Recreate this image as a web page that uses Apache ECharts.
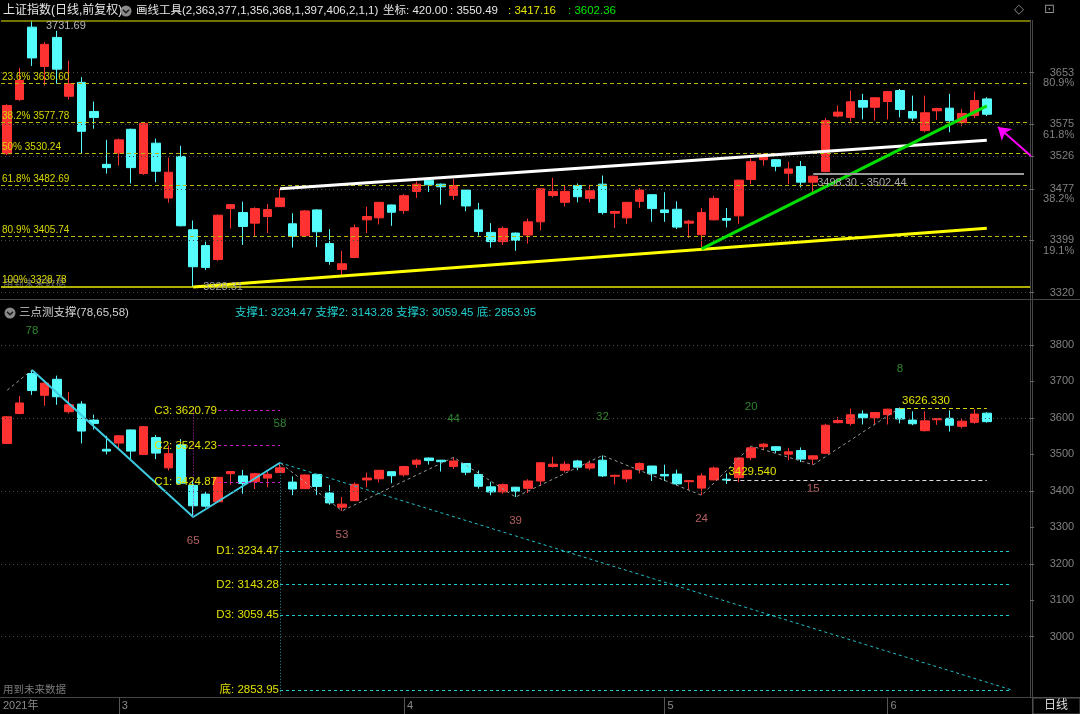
<!DOCTYPE html>
<html><head><meta charset="utf-8">
<script src="https://cdn.jsdelivr.net/npm/echarts@6/dist/echarts.min.js"></script>
<style>html,body{margin:0;padding:0;background:#000;}#c{width:1080px;height:714px;}</style>
</head><body><div id="c"></div>
<script>
// ---- data ----
const dates = [
 '2021-02-09','2021-02-10','2021-02-18','2021-02-19','2021-02-22','2021-02-23','2021-02-24','2021-02-25','2021-02-26',
 '2021-03-01','2021-03-02','2021-03-03','2021-03-04','2021-03-05','2021-03-08','2021-03-09','2021-03-10','2021-03-11','2021-03-12',
 '2021-03-15','2021-03-16','2021-03-17','2021-03-18','2021-03-19','2021-03-22','2021-03-23','2021-03-24','2021-03-25','2021-03-26',
 '2021-03-29','2021-03-30','2021-03-31',
 '2021-04-01','2021-04-02','2021-04-06','2021-04-07','2021-04-08','2021-04-09','2021-04-12','2021-04-13','2021-04-14','2021-04-15',
 '2021-04-16','2021-04-19','2021-04-20','2021-04-21','2021-04-22','2021-04-23','2021-04-26','2021-04-27','2021-04-28','2021-04-29','2021-04-30',
 '2021-05-06','2021-05-07','2021-05-10','2021-05-11','2021-05-12','2021-05-13','2021-05-14','2021-05-17','2021-05-18','2021-05-19',
 '2021-05-20','2021-05-21','2021-05-24','2021-05-25','2021-05-26','2021-05-27','2021-05-28','2021-05-31',
 '2021-06-01','2021-06-02','2021-06-03','2021-06-04','2021-06-07','2021-06-08','2021-06-09','2021-06-10','2021-06-11'];
const padCats = ['n1','n2','n3'];
const opens = [3530,3612,3721.6,3662,3706,3617,3638,3594,3514,
 3531,3567,3500,3546,3463,3526,3415,3391,3370,3447,3441,3425,3435,3450,3424,3406,3445,3394,3355,3373,3430,3433,3452.5,
 3444,3473,3490,3484,3467,3475,3445,3411,3397,3410,3407,3427,3467,3456.5,3482,3462.5,3484,3440,3433,3458,3468,
 3445,3446,3425,3407.5,3430,3432,3436,3491,3521,3521,3500.5,3510.6,3487,3503,3587,3585,3610.6,3600.4,
 3609,3625.7,3594,3565,3595,3599,3577,3588,3613];
const closes = [3603,3641,3675,3695.5,3658,3636,3564,3585,3509,
 3551,3509,3576,3503.5,3502,3421,3359,3358,3437,3453,3420,3447,3445.5,3463,3405,3443.5,3412,3367,3363.5,3418,3435,3456.5,3441.5,
 3466.5,3484,3483,3480,3482,3451,3412.5,3397,3417,3399,3427,3477,3473,3473,3465,3474,3441,3442.6,3456.5,3475,3447,
 3441,3419,3428,3441,3462.5,3429.5,3490,3518,3528,3511,3507,3487,3496,3580,3593,3608.6,3600.5,3614.7,
 3624,3597,3584,3592,3598.5,3580,3591,3610.6,3589.75];
const lows = [3528,3610,3663,3633,3636,3612,3530,3568,3500,
 3512,3485,3498,3487,3456,3420,3328.31,3354,3368,3417,3392,3405,3410,3450,3388,3405,3389,3362,3345,3372,3410,3423,3421,
 3439,3463,3472,3453,3460,3443,3406,3388,3392,3383,3394,3414,3464,3450,3456.5,3456.5,3438,3417.7,3424,3448,3427,
 3427,3416,3402.5,3388,3429,3418.6,3424,3484,3512,3503.5,3484,3479,3471.6,3502,3585,3579,3582,3580,
 3582,3585,3580,3562.5,3581,3562.5,3571.7,3584,3587];
const highs = [3605,3660,3731.69,3699,3716,3671,3646,3609,3551,
 3553,3568,3578,3553,3524,3542,3429,3397,3438,3454,3457.5,3449,3454,3477,3440,3445,3446,3416,3383,3423,3450,3457,3453,
 3469,3488,3491,3485,3492,3476,3455.6,3425,3420,3411,3432,3478,3493.5,3481,3485,3483,3497,3444,3457,3478,3469,
 3471.7,3458,3430,3448,3466.6,3448,3491,3523,3531,3522,3518,3519,3497,3584,3603,3625.7,3620.7,3615.5,
 3625,3628,3618,3618,3599.5,3620.7,3598,3624,3615.6];

const fibValues = [3731.69,3636.60,3577.78,3530.24,3482.69,3405.74,3328.78];
const fibLabels = ['','23.6% 3636.60','38.2% 3577.78','50% 3530.24','61.8% 3482.69','80.9% 3405.74','100% 3328.78'];
const topTicks = [3653,3575,3526,3477,3399,3320];
const topPctTicks = [3653,3575,3477,3399];
const topPctLabels = ['80.9%','61.8%','38.2%','19.1%'];
const botTicks = [3000,3100,3200,3300,3400,3500,3600,3700,3800];
const botGridLines = [3800,3600,3400,3200,3000];

const trendWhite = [['2021-03-18',3477],['2021-06-11',3550.49]];
const trendYellow = [['2021-03-09',3328.31],['2021-06-11',3417.16]];
const trendGreen = [['2021-05-11',3386],['2021-06-11',3602.36]];
const rangeLine = [['2021-05-24',3500.4],['n3',3500.4]];
const rangeText = '3498.30 - 3502.44';

const swingDates = ['2021-02-18','2021-03-09','2021-03-18','2021-03-25','2021-04-08','2021-04-15','2021-04-26','2021-05-11','2021-05-17','2021-05-24','2021-06-02'];
const swingPrices = [3731.69,3328.31,3477,3345,3492,3383,3497,3388,3523,3471.6,3628];
const swingCounts = [78,65,58,53,44,39,32,24,20,15,8];
const swingKinds = ['H','L','H','L','H','L','H','L','H','L','H'];
const zigStart = ['2021-02-09',3676];

const cLevels = [3620.79,3524.23,3424.87];
const cLabels = ['C3: 3620.79','C2: 3524.23','C1: 3424.87'];
const dLevels = [3234.47,3143.28,3059.45,2853.95];
const dLabels = ['D1: 3234.47','D2: 3143.28','D3: 3059.45','底: 2853.95'];
const hiMark = {from:'2021-06-02', to:'2021-06-11', value:3626.33, text:'3626.330'};
const loMark = {from:'2021-05-13', to:'2021-06-11', value:3429.54, text:'3429.540'};

const monthStarts = ['2021-03-01','2021-04-01','2021-05-06','2021-06-01'];
const monthLabels = ['3','4','5','6'];

// ---- chart ----
const FONT = '"Liberation Sans","Noto Sans CJK SC",sans-serif';
const cats = dates.concat(padCats);
const ohlc = opens.map((o,i)=>[o, closes[i], lows[i], highs[i]]);
const swings = swingDates.map((d,i)=>[d, swingPrices[i], swingCounts[i]]);

const candleStyle = {color:'#ff3232', color0:'#54fcfc', borderColor:'#ff3232', borderColor0:'#54fcfc', borderWidth:1};

const fibLines = fibValues.map((v,i)=>{
  const solid = (i===0 || i===fibValues.length-1);
  return {yAxis:v,
    lineStyle:{color: i===0?'#9a9a00':(solid?'#e8e800':'#b8b800'), type: solid?'solid':[4,3], width: solid?1.5:1},
    label:{show: !!fibLabels[i], formatter: fibLabels[i], position:'insideStartTop', distance:1, color:'#d8d800', fontSize:10, fontFamily:FONT}};
});
const topGrid = topTicks.map(v=>({yAxis:v, lineStyle:{color:'#4a4a4a', type:[1,3], width:1}, label:{show:false}}));
function seg(p, color, width, type, label){
  return [{coord:p[0], lineStyle:{color, width, type}, label: label||{show:false}},{coord:p[1]}];
}

const topMarkLines = topGrid.concat(fibLines).concat([
  seg(trendYellow,'#ffff00',3,'solid'),
  seg(trendWhite,'#ffffff',3,'solid'),
  seg(trendGreen,'#00e000',3,'solid'),
  seg(rangeLine,'#9a9a9a',2,'solid',{show:true, formatter:rangeText, position:'insideStartBottom', distance:4, color:'#a8a8a8', fontSize:11, fontFamily:FONT}),
  [{x:1031,y:156, lineStyle:{color:'#ff00ff',width:2,type:'solid'}, label:{show:false}, symbol:'none'},{x:998,y:127, symbol:'arrow', symbolSize:12}]
]);

const botMarkLines = botGridLines.map(v=>({yAxis:v, lineStyle:{color:'#4a4a4a', type:[1,3], width:1}, label:{show:false}}))
 .concat(cLevels.map((v,i)=>seg([['2021-03-11',v],['2021-03-18',v]],'#c020c0',1,[3,3],{show:true, formatter:cLabels[i], position:'start', distance:1, color:'#e0e000', fontSize:11.5, fontFamily:FONT})))
 .concat(dLevels.map((v,i)=>seg([['2021-03-18',v],['n2',v]],'#20c8c8',1,[3,3],{show:true, formatter:dLabels[i], position:'start', distance:1, color:'#e0e000', fontSize:11.5, fontFamily:FONT})))
 .concat([
  seg([['2021-03-09',3626],['2021-03-09',swingPrices[1]]],'#c020c0',1,[1,2]),
  seg([['2021-03-18',swingPrices[2]],['2021-03-18',2836]],'#2a9090',1,[1,2]),
  seg([['2021-03-18',swingPrices[2]],['n2',dLevels[3]]],'#20c0c8',1,[3,3]),
  seg([[hiMark.from,hiMark.value],[hiMark.to,hiMark.value]],'#d8d800',1,[4,3],{show:true, formatter:hiMark.text, position:'insideStartTop', distance:2, color:'#e0e000', fontSize:11.5, fontFamily:FONT}),
  seg([[loMark.from,loMark.value],[loMark.to,loMark.value]],'#dddddd',1,[4,3],{show:true, formatter:loMark.text, position:'insideStartTop', distance:2, color:'#e0e000', fontSize:11.5, fontFamily:FONT})
 ]);

function txt(x,y,text,fill,size,extra){
  return Object.assign({type:'text', x, y, silent:true, style:Object.assign({text, fill, font: (size||12)+'px '+FONT, textVerticalAlign:'middle', textAlign:'left'}, extra||{})});
}
function icon(cx,cy){
  return [{type:'circle', shape:{cx,cy,r:5.5}, style:{fill:'#8a8a8a'}},
          {type:'polyline', shape:{points:[[cx-3,cy-1.2],[cx,cy+1.8],[cx+3,cy-1.2]]}, style:{stroke:'#1a1a1a', lineWidth:1.5, fill:null}}];
}

const option = {
  backgroundColor:'#000',
  animation:false,
  textStyle:{fontFamily:FONT},
  grid:[{left:1, top:20, width:1029.2, height:279},{left:1, top:300, width:1029.2, height:397}],
  xAxis:[
    {type:'category', gridIndex:0, data:cats, boundaryGap:true, axisLine:{show:false}, axisTick:{show:false}, axisLabel:{show:false}, splitLine:{show:false}},
    {type:'category', gridIndex:1, data:cats, boundaryGap:true,
     axisLine:{show:true, lineStyle:{color:'#444'}},
     axisTick:{show:true, alignWithLabel:true, length:17, interval:(i,v)=>monthStarts.indexOf(v)>=0, lineStyle:{color:'#555'}},
     axisLabel:{show:true, interval:(i,v)=>monthStarts.indexOf(v)>=0, formatter:v=>{const k=monthStarts.indexOf(v);return k>=0?monthLabels[k]:'';}, align:'left', margin:3, color:'#8a8a8a', fontSize:11, padding:[0,0,0,3]},
     splitLine:{show:false}}
  ],
  yAxis:[
    {type:'value', gridIndex:0, position:'right', min:3310.2, max:3732.4, scale:true,
     axisLine:{show:true, lineStyle:{color:'#444'}},
     axisTick:{show:true, customValues:topTicks, length:4, lineStyle:{color:'#666'}},
     axisLabel:{show:true, customValues:topTicks, formatter:v=>String(Math.round(v)), color:'#808080', fontSize:11, align:'right', margin:44, verticalAlign:'middle'},
     splitLine:{show:false}},
    {type:'value', gridIndex:0, position:'right', min:3310.2, max:3732.4, scale:true,
     axisLine:{show:false}, axisTick:{show:false},
     axisLabel:{show:true, customValues:topPctTicks, formatter:v=>{const k=topPctTicks.indexOf(Math.round(v));return k>=0?topPctLabels[k]:'';}, color:'#808080', fontSize:11, align:'right', margin:44, verticalAlign:'top', padding:[5,0,0,0]},
     splitLine:{show:false}},
    {type:'value', gridIndex:1, position:'right', min:2834.6, max:3923.4, scale:true,
     axisLine:{show:true, lineStyle:{color:'#444'}},
     axisTick:{show:true, customValues:botTicks, length:4, lineStyle:{color:'#666'}},
     axisLabel:{show:true, customValues:botTicks, formatter:v=>String(Math.round(v)), color:'#808080', fontSize:11, align:'right', margin:44, verticalAlign:'middle'},
     splitLine:{show:false}}
  ],
  series:[
    {type:'candlestick', xAxisIndex:0, yAxisIndex:0, data:ohlc, barWidth:9, clip:false, itemStyle:candleStyle,
     markLine:{silent:true, symbol:['none','none'], animation:false, data:topMarkLines},
     markPoint:{silent:true, animation:false, data:[
       {coord:[swingDates[0], swingPrices[0]], symbol:'circle', symbolSize:0, label:{show:true, formatter:'3731.69', position:'right', distance:14, offset:[0,5], color:'#b8b8b8', fontSize:11, fontFamily:FONT}},
       {coord:[swingDates[1], swingPrices[1]], symbol:'circle', symbolSize:0, label:{show:true, formatter:'3328.31', position:'right', distance:10, offset:[0,0], color:'#a0a0a0', fontSize:11, fontFamily:FONT}}
     ]}},
    {type:'candlestick', xAxisIndex:1, yAxisIndex:2, data:ohlc, barWidth:9, clip:false, itemStyle:candleStyle,
     markLine:{silent:true, symbol:['none','none'], animation:false, data:botMarkLines}},
    {type:'line', xAxisIndex:1, yAxisIndex:2, data:[zigStart].concat(swings.map(s=>[s[0],s[1]])), symbol:'none', lineStyle:{color:'#9a9a9a', width:1, type:[3,3]}, z:3},
    {type:'line', xAxisIndex:1, yAxisIndex:2, data:swings.slice(0,3).map(s=>[s[0],s[1]]), symbol:'none', lineStyle:{color:'#3ccbe0', width:2}, z:4},
    {type:'scatter', xAxisIndex:1, yAxisIndex:2, data:swings.filter((s,i)=>swingKinds[i]==='H'), symbolSize:0,
     label:{show:true, position:'top', distance:33, formatter:p=>String(p.data[2]), color:'#3aa53a', fontSize:11.5, fontFamily:FONT}},
    {type:'scatter', xAxisIndex:1, yAxisIndex:2, data:swings.filter((s,i)=>swingKinds[i]==='L'), symbolSize:0,
     label:{show:true, position:'bottom', distance:18, formatter:p=>String(p.data[2]), color:'#e07878', fontSize:11.5, fontFamily:FONT}}
  ],
  graphic:{elements:[
    {type:'line', shape:{x1:1032.5,y1:20,x2:1032.5,y2:714}, style:{stroke:'#444', lineWidth:1}, silent:true},
    {type:'line', shape:{x1:0,y1:299.5,x2:1080,y2:299.5}, style:{stroke:'#444', lineWidth:1}, silent:true},
    {type:'line', shape:{x1:0,y1:697.5,x2:1080,y2:697.5}, style:{stroke:'#444', lineWidth:1}, silent:true},
    {type:'rect', shape:{x:1033,y:698,width:47,height:16}, style:{fill:'#000', stroke:'#555', lineWidth:1}, silent:true},
    txt(3,11,'上证指数(日线,前复权)','#e6e6e6',12),
    ...icon(126,11),
    txt(136,11,'画线工具(2,363,377,1,356,368,1,397,406,2,1,1)','#e6e6e6',11.5),
    txt(383,11,'坐标: 420.00','#e6e6e6',11.5),
    txt(450,11,': 3550.49','#e6e6e6',11.5),
    txt(508,11,': 3417.16','#e6e600',11.5),
    txt(568,11,': 3602.36','#00e600',11.5),
    txt(1014,10,'◇','#909090',13,{font:'13px "DejaVu Sans"'}),
    txt(1044,10,'⊡','#909090',13,{font:'13px "DejaVu Sans"'}),
    ...icon(10,313),
    txt(19,313,'三点测支撑(78,65,58)','#d0d0d0',11.5),
    txt(235,313,'支撑1: 3234.47 支撑2: 3143.28 支撑3: 3059.45 底: 2853.95','#20d0d0',11.5),
    txt(3,284,'用到未来数据','#6a6a6a',10.5),
    txt(3,690,'用到未来数据','#7a7a7a',10.5),
    txt(3,706,'2021年','#8a8a8a',11),
    txt(1044,706,'日线','#dddddd',12)
  ]}
};
const chart = echarts.init(document.getElementById('c'), null, {renderer:'canvas'});
chart.setOption(option);
</script></body></html>
